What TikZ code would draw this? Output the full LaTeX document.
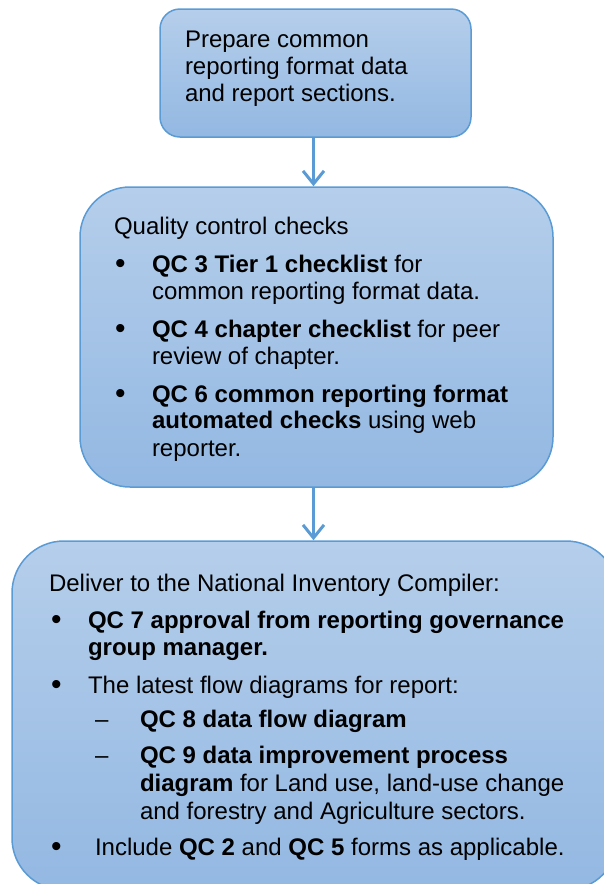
\documentclass[tikz,border=0pt]{standalone}
\usepackage{fontspec}
\setmainfont{Liberation Sans}
\usetikzlibrary{arrows.meta,shadings}
\definecolor{edgeblue}{RGB}{91,155,213}
\definecolor{filltop}{RGB}{181,206,235}
\definecolor{fillbot}{RGB}{147,184,226}
\tikzset{
  flowbox/.style={draw=edgeblue, line width=1.5pt, top color=filltop, bottom color=fillbot, inner sep=0pt},
  flowarrow/.style={draw=edgeblue, line width=3pt, -{Straight Barb[length=13pt,width=21pt]}},
  txt/.style={anchor=base west, inner sep=0pt, outer sep=0pt, font=\fontsize{24}{27}\selectfont},
  bul/.style={anchor=base west, inner sep=0pt, outer sep=0pt, font=\fontsize{30}{27}\selectfont},
}
\begin{document}
\begin{tikzpicture}[x=1pt,y=-1pt]
\useasboundingbox (0,0) rectangle (604,884);
\clip (0,0) rectangle (604,884);

% boxes
\node[flowbox, rounded corners=20pt, minimum width=311pt, minimum height=128pt] (b1) at (315.5,73) {};
\node[flowbox, rounded corners=50pt, minimum width=473pt, minimum height=300pt] (b2) at (316.5,337) {};
\node[flowbox, rounded corners=52pt, minimum width=606pt, minimum height=349pt] (b3) at (315,715.5) {};

% connectors
\draw[flowarrow] ([xshift=-2pt]b1.south) -- ([xshift=-2pt]b1.south |- b2.north);
\draw[flowarrow] ([xshift=-3pt]b2.south) -- ([xshift=-3pt]b2.south |- b3.north);

% box 1 text
\node[txt] (t1a) at (185,47) {Prepare common};
\node[txt] (t1b) at (185,74) {reporting format data};
\node[txt] (t1c) at (185,101) {and report sections.};

% box 2 text
\node[txt] (t2h) at (114,234) {Quality control checks};
\node[bul] (t2b1) at (115,273) {•};
\node[txt] (t2a1) at (152,272) {\textbf{QC 3 Tier 1 checklist} for};
\node[txt] (t2a2) at (152,299) {common reporting format data.};
\node[bul] (t2b2) at (115,338) {•};
\node[txt] (t2c1) at (152,337) {\textbf{QC 4 chapter checklist} for peer};
\node[txt] (t2c2) at (152,364) {review of chapter.};
\node[bul] (t2b3) at (115,403) {•};
\node[txt] (t2d1) at (152,402) {\textbf{QC 6 common reporting format}};
\node[txt] (t2d2) at (152,428) {\textbf{automated checks} using web};
\node[txt] (t2d3) at (152,456) {reporter.};

% box 3 text
\node[txt] (t3h) at (49,591) {Deliver to the National Inventory Compiler:};
\node[bul] (t3b1) at (51,629) {•};
\node[txt] (t3a1) at (88,628) {\textbf{QC 7 approval from reporting governance}};
\node[txt] (t3a2) at (88,655) {\textbf{group manager.}};
\node[bul] (t3b2) at (51,694) {•};
\node[txt] (t3c1) at (88,693) {The latest flow diagrams for report:};
\node[txt] (t3d1) at (95,727) {–};
\node[txt] (t3e1) at (140,727) {\textbf{QC 8 data flow diagram}};
\node[txt] (t3d2) at (95,763) {–};
\node[txt] (t3f1) at (140,763) {\textbf{QC 9 data improvement process}};
\node[txt] (t3f2) at (140,791) {\textbf{diagram} for Land use, land-use change};
\node[txt] (t3f3) at (140,819) {and forestry and Agriculture sectors.};
\node[bul] (t3b3) at (51,856) {•};
\node[txt] (t3g1) at (95,855) {Include \textbf{QC 2} and \textbf{QC 5} forms as applicable.};
\end{tikzpicture}
\end{document}
